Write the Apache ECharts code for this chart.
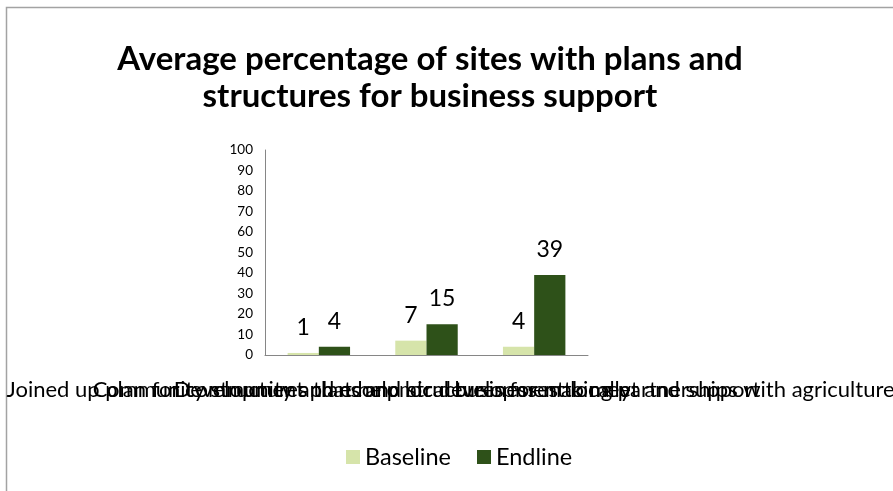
<!DOCTYPE html>
<html>
<head>
<meta charset="utf-8">
<style>
  html, body { margin: 0; padding: 0; background: #fff; }
  #chart { width: 893px; height: 491px; }
</style>
<script src="https://cdn.jsdelivr.net/npm/echarts@6/dist/echarts.min.js"></script>
</head>
<body>
<div id="chart"></div>
<script>
// Category names (long labels, drawn unwrapped on one line)
const categories = [
  'Joined up plan for community and economic development locally',
  'Community structures that help local businesses to meet and support',
  'Development plans and structures for making partnerships with agriculture'
];
const baseline = [1, 7, 4];
const endline = [4, 15, 39];
const yTicks = [0, 10, 20, 30, 40, 50, 60, 70, 80, 90, 100];

const FONT = 'Lato, "Open Sans", sans-serif';
const chart = echarts.init(document.getElementById('chart'));

chart.setOption({
  backgroundColor: '#ffffff',
  animation: false,
  title: {
    text: 'Average percentage of sites with plans and\nstructures for business support',
    left: 425,
    textAlign: 'center',
    top: 36,
    textStyle: {
      fontFamily: FONT,
      fontWeight: 'bold',
      fontSize: 33,
      lineHeight: 37,
      color: '#000000'
    }
  },
  graphic: [{
    type: 'rect',
    shape: { x: 6.5, y: 7.5, width: 900, height: 500 },
    style: { fill: 'none', stroke: '#a3a3a3', lineWidth: 1.5 },
    silent: true
  }],
  legend: {
    left: 341,
    top: 440,
    itemWidth: 14,
    itemHeight: 14,
    itemGap: 26,
    icon: 'rect',
    textStyle: { fontFamily: FONT, fontSize: 23.5, color: '#000000' },
    data: ['Baseline', 'Endline']
  },
  grid: {
    left: 265, right: 305, top: 150, bottom: 136,
    containLabel: false,
    outerBoundsMode: 'none'
  },
  xAxis: {
    type: 'category',
    data: categories,
    axisLine: { lineStyle: { color: '#868686', width: 1 } },
    axisTick: { show: false },
    axisLabel: {
      interval: 0,
      margin: 24,
      hideOverlap: false,
      fontFamily: FONT,
      fontSize: 22,
      color: '#000000'
    }
  },
  yAxis: {
    type: 'value',
    min: yTicks[0],
    max: yTicks[yTicks.length - 1],
    interval: yTicks[1] - yTicks[0],
    axisLine: { show: true, lineStyle: { color: '#868686', width: 1 } },
    axisTick: { show: false },
    splitLine: { show: false },
    axisLabel: { margin: 12, fontFamily: FONT, fontSize: 13.5, color: '#000000' }
  },
  series: [
    {
      name: 'Baseline',
      type: 'bar',
      data: baseline,
      barGap: '0%',
      barCategoryGap: '42%',
      itemStyle: { color: '#d6e4aa' },
      label: { show: true, position: 'top', distance: 14, fontFamily: FONT, fontSize: 23, color: '#000000' }
    },
    {
      name: 'Endline',
      type: 'bar',
      data: endline,
      barGap: '0%',
      barCategoryGap: '42%',
      itemStyle: { color: '#2e5119' },
      label: { show: true, position: 'top', distance: 14, fontFamily: FONT, fontSize: 23, color: '#000000' }
    }
  ]
});
</script>
</body>
</html>
